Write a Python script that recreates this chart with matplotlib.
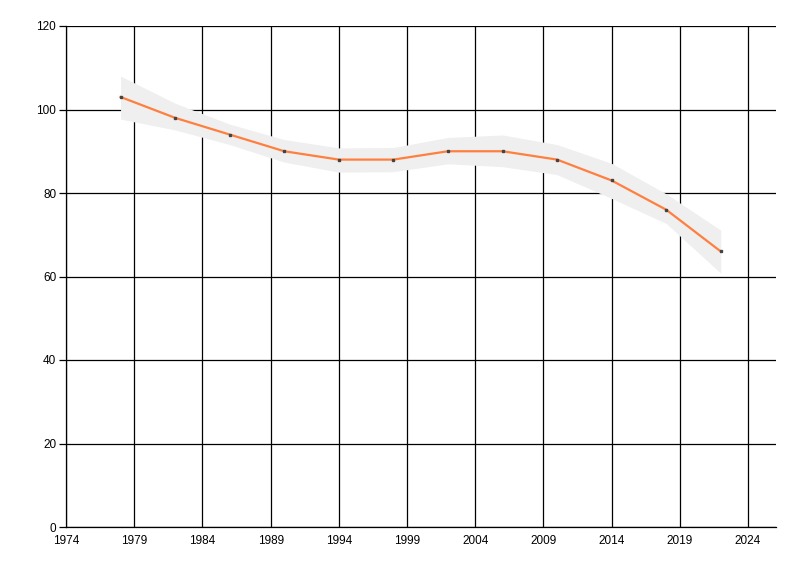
import matplotlib
matplotlib.use("Agg")
import matplotlib.pyplot as plt

years = [1978, 1982, 1986, 1990, 1994, 1998, 2002, 2006, 2010, 2014, 2018, 2022]
values = [103, 98, 94, 90, 88, 88, 90, 90, 88, 83, 76, 66]
band_upper = [108, 101.5, 96.5, 92.8, 90.8, 90.9, 93.3, 93.9, 91.6, 87.1, 79.8, 71.1]
band_lower = [97.7, 95.1, 91.6, 87.4, 85.0, 85.1, 87.0, 86.3, 84.4, 78.7, 72.7, 60.8]
x_ticks = [1974, 1979, 1984, 1989, 1994, 1999, 2004, 2009, 2014, 2019, 2024]
y_ticks = [0, 20, 40, 60, 80, 100, 120]

plt.rcParams['font.family'] = ['Liberation Sans', 'DejaVu Sans']
fig = plt.figure(figsize=(8, 5.76), dpi=100)
ax = fig.add_axes([66/800, 49/576, 710/800, 501/576])

ax.fill_between(years, band_lower, band_upper, color='#EFEFEF', linewidth=0, zorder=1)
ax.plot(years, values, color='#FF7F3F', linewidth=1.6, zorder=3,
        marker='s', markersize=2, markerfacecolor='#444444', markeredgecolor='#444444')

ax.set_xlim(1974, 2026.05)
ax.set_ylim(0, 120)
ax.set_xticks(x_ticks)
ax.set_yticks(y_ticks)
ax.grid(True, color='black', linewidth=0.9, zorder=0)
ax.set_axisbelow(True)
for s in ['top', 'right']:
    ax.spines[s].set_visible(False)
for s in ['left', 'bottom']:
    ax.spines[s].set_linewidth(0.9)
ax.tick_params(axis='x', length=0, pad=6, labelsize=8.5)
ax.tick_params(axis='y', length=5, width=0.9, pad=2, labelsize=8.5)

fig.savefig('out.png', dpi=100)
